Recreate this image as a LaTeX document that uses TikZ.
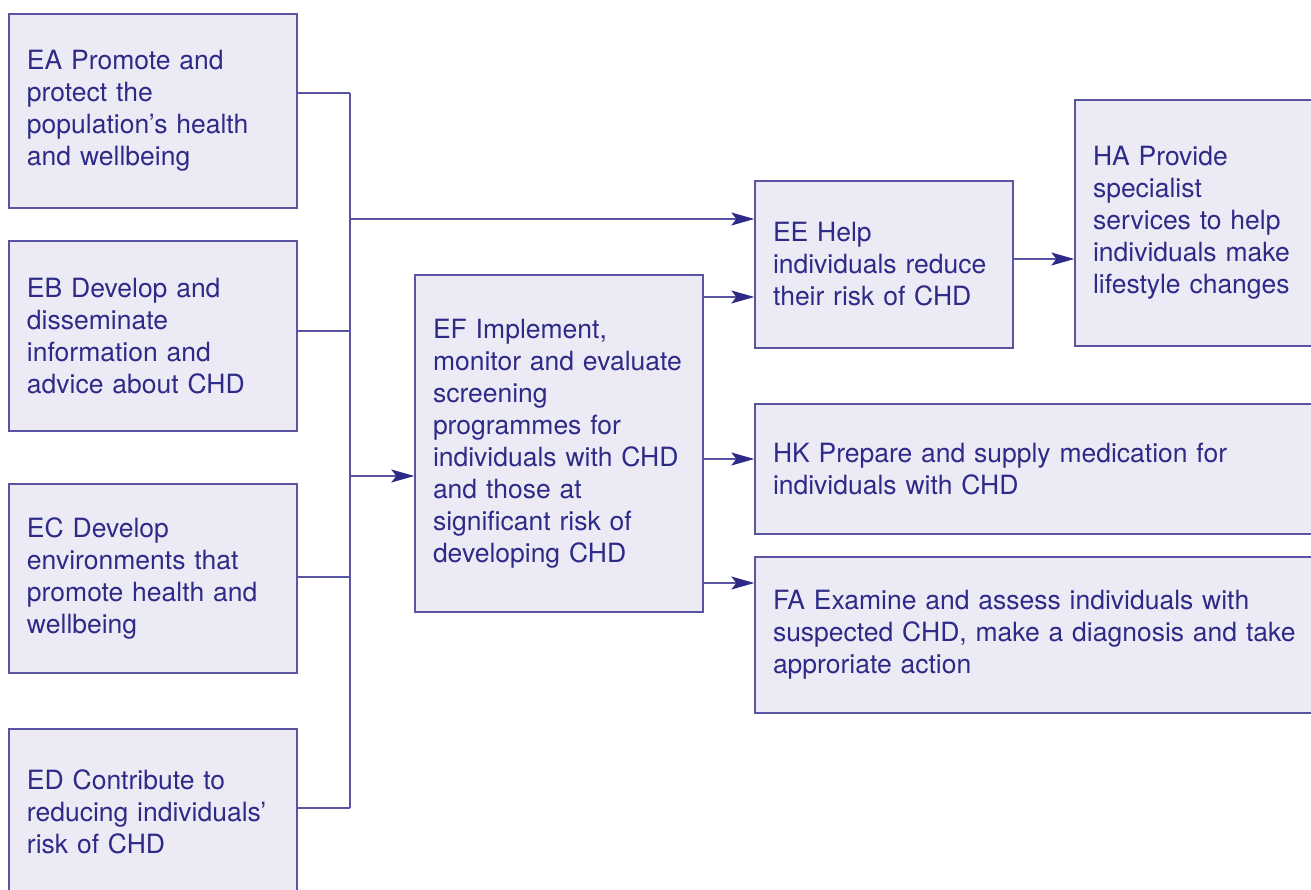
\documentclass[tikz,border=0pt]{standalone}
\usepackage{fontspec}
\setmainfont{TeX Gyre Heros}
\usepackage{tikz}
\usetikzlibrary{arrows.meta, positioning}

\definecolor{boxfill}{HTML}{ECEBF5}
\definecolor{boxline}{HTML}{5A55A2}
\definecolor{inkblue}{HTML}{2E2A87}

\begin{document}
\begin{tikzpicture}[
  x=1pt, y=-1pt,
  box/.style={draw=boxline, line width=1.4pt, fill=boxfill, text=inkblue,
              inner xsep=18pt, inner ysep=0pt, text width=#1, align=left,
              font=\fontsize{26.5}{32}\selectfont},
  box/.default=252pt,
  link/.style={boxline, line width=1.4pt},
  arr/.style={link, -{Stealth[length=23pt, width=13pt, inset=5pt, color=inkblue]}},
]
  \clip (0,0) rectangle (1311,890);

  % left column
  \node[box, minimum height=194pt] (EA) at (153,111) {EA Promote and\\protect the\\population’s health\\and wellbeing};
  \node[box, minimum height=190pt] (EB) at (153,336) {EB Develop and\\disseminate\\information and\\advice about CHD};
  \node[box, minimum height=189pt] (EC) at (153,578.5) {EC Develop\\environments that\\promote health and\\wellbeing};
  \node[box, minimum height=166pt] (ED) at (153,812) {ED Contribute to\\reducing individuals’\\risk of CHD};

  % middle and right
  \node[box, minimum height=337pt] (EF) at (559,443.5) {EF Implement,\\monitor and evaluate\\screening\\programmes for\\individuals with CHD\\and those at\\significant risk of\\developing CHD};
  \node[box=222pt, minimum height=167pt] (EE) at (884,264.5) {EE Help\\individuals reduce\\their risk of CHD};
  \node[box, minimum height=246pt] (HA) at (1219,223) {HA Provide\\specialist\\services to help\\individuals make\\lifestyle changes};
  \node[box=564pt, minimum height=130pt] (HK) at (1055,469) {HK Prepare and supply medication for\\individuals with CHD};
  \node[box=564pt, minimum height=156pt] (FA) at (1055,635) {FA Examine and assess individuals with\\suspected CHD, make a diagnosis and take\\approriate action};

  % collecting bus
  \foreach \n/\y in {EA/93, EB/331, EC/577, ED/808} {
    \coordinate (j\n) at (350,\y);
    \draw[link] (\n.east |- j\n) -- (j\n);
  }
  \draw[link] (jEA) -- (jED);
  \coordinate (jEE) at (350,219);
  \coordinate (jEF) at (350,476);
  \draw[arr] (jEE) -- (EE.west |- jEE);
  \draw[arr] (jEF) -- (EF.west |- jEF);

  % out of EF and EE
  \draw[arr] (EF.east |- 0,297) -- (EE.west |- 0,297);
  \draw[arr] (EF.east |- 0,459) -- (HK.west |- 0,459);
  \draw[arr] (EF.east |- 0,583) -- (FA.west |- 0,583);
  \draw[arr] (EE.east |- 0,259) -- (HA.west |- 0,259);
\end{tikzpicture}
\end{document}
